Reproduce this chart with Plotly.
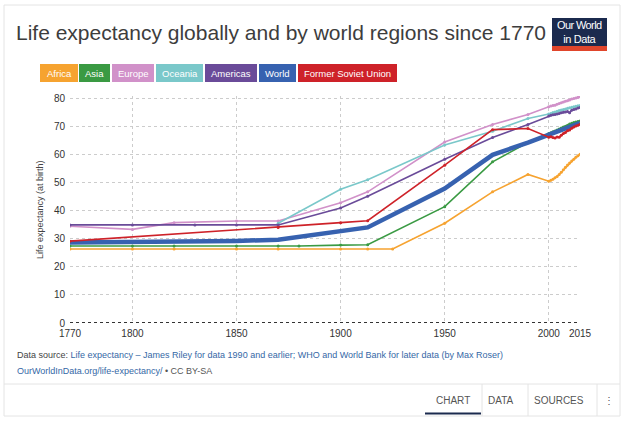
import plotly.graph_objects as go

# ---------------- data ----------------
tick_years = [1770, 1800, 1850, 1900, 1950, 2000, 2015]
grid_years = [1800, 1850, 1900, 1950, 2000]
y_ticks = [0, 10, 20, 30, 40, 50, 60, 70, 80]

recent_years = [2000, 2001, 2002, 2003, 2004, 2005, 2006, 2007, 2008, 2009, 2010, 2011, 2012, 2013, 2014, 2015]

africa_years = [1770, 1800, 1820, 1850, 1870, 1900, 1913, 1925, 1950, 1973, 1990] + recent_years
africa = [26.4, 26.4, 26.4, 26.4, 26.4, 26.4, 26.4, 26.4, 35.6, 46.8, 53.0,
          50.6, 50.9, 51.3, 51.8, 52.3, 53.0, 53.8, 54.7, 55.6, 56.4, 57.1, 57.8, 58.4, 59.1, 59.7, 60.2]

asia_years = [1770, 1800, 1820, 1850, 1870, 1880, 1900, 1913, 1950, 1973, 1990] + recent_years
asia = [27.5, 27.5, 27.5, 27.5, 27.5, 27.5, 27.8, 27.9, 41.5, 57.5, 64.4,
        67.6, 67.9, 68.2, 68.5, 68.9, 69.2, 69.6, 69.9, 70.2, 70.6, 71.0, 71.3, 71.5, 71.7, 71.9, 72.1]

europe_years = [1770, 1800, 1820, 1850, 1870, 1900, 1913, 1950, 1973, 1990] + recent_years
europe = [34.5, 33.4, 35.8, 36.4, 36.4, 42.9, 46.8, 64.6, 70.8, 74.4,
          77.2, 77.4, 77.6, 77.7, 78.1, 78.3, 78.6, 78.9, 79.1, 79.3, 79.6, 79.9, 80.1, 80.3, 80.5, 80.7]

oceania_years = [1870, 1900, 1913, 1950, 1973, 1990] + recent_years
oceania = [35.6, 47.7, 51.1, 63.5, 68.4, 73.0,
           74.6, 74.8, 75.1, 75.3, 75.6, 75.8, 76.0, 76.2, 76.4, 76.6, 76.8, 77.0, 77.2, 77.3, 77.5, 77.6]

americas_years = [1770, 1800, 1830, 1850, 1870, 1900, 1913, 1950, 1973, 1990] + recent_years
americas = [35.0, 35.0, 35.0, 35.0, 35.0, 41.0, 45.2, 58.4, 66.2, 70.8,
            73.9, 74.1, 74.3, 74.4, 74.6, 74.8, 75.0, 75.2, 75.3, 75.5, 75.0, 75.9, 76.2, 76.4, 76.7, 76.9]

world_years = [1770, 1800, 1820, 1850, 1870, 1900, 1913, 1950, 1973, 1990] + recent_years
world = [28.7, 28.8, 29.0, 29.3, 29.7, 32.8, 34.1, 48.0, 60.0, 64.4,
         67.0, 67.3, 67.6, 67.9, 68.2, 68.5, 68.8, 69.1, 69.4, 69.7, 70.0, 70.3, 70.6, 70.9, 71.2, 71.4]

fsu_years = [1770, 1870, 1900, 1913, 1950, 1973, 1990] + recent_years
fsu = [29.2, 34.1, 35.8, 36.5, 56.3, 69.0, 69.4,
       66.3, 66.5, 66.2, 66.0, 66.4, 66.3, 67.0, 67.6, 68.0, 68.6, 68.9, 69.5, 69.9, 70.3, 70.6, 70.9]

series_names = ["Africa", "Asia", "Europe", "Oceania", "Americas", "World", "Former Soviet Union"]
series_years = [africa_years, asia_years, europe_years, oceania_years, americas_years, world_years, fsu_years]
series_values = [africa, asia, europe, oceania, americas, world, fsu]
series_colors = ["#F6A330", "#3A9A43", "#D191C9", "#7AC8CA", "#6A4B99", "#3762B0", "#CE2229"]
series_widths = [1.6, 1.6, 1.6, 1.6, 1.6, 4.5, 1.6]

# ---------------- geometry helpers ----------------
W_PX, H_PX = 626, 421
L, R = 70, 580          # plot area pixel x
T, B = 96, 323          # plot area pixel y


def px(x):
    return (x - L) / (R - L)


def py(y):
    return (B - y) / (B - T)


fig = go.Figure()

for name, xs, ys, col, w in zip(series_names, series_years, series_values, series_colors, series_widths):
    fig.add_trace(go.Scatter(
        x=xs, y=ys, name=name, mode="lines+markers",
        line=dict(color=col, width=w),
        marker=dict(size=3 if w < 3 else 0.1, color=col),
        showlegend=False, hoverinfo="x+y+name",
    ))

# invisible trace on the second x axis for vertical grid lines
fig.add_trace(go.Scatter(x=[tick_years[0], tick_years[-1]], y=[None, None], xaxis="x2",
                         showlegend=False, hoverinfo="skip"))

fig.update_layout(
    width=W_PX, height=H_PX,
    margin=dict(l=L, r=W_PX - R, t=T, b=H_PX - B, pad=0),
    paper_bgcolor="white", plot_bgcolor="white",
    font=dict(family="Liberation Sans, Arial, sans-serif", color="#333333", size=10),
    xaxis=dict(range=[tick_years[0], tick_years[-1]], tickvals=tick_years,
               ticktext=[str(v) for v in tick_years],
               showgrid=False, zeroline=False, showline=False, ticks="",
               tickfont=dict(size=10, color="#333333"), ticklabelstandoff=3),
    xaxis2=dict(range=[tick_years[0], tick_years[-1]], overlaying="x", tickvals=grid_years,
                showgrid=True, gridcolor="#cccccc", griddash="dot", gridwidth=1,
                showticklabels=False, zeroline=False, ticks=""),
    yaxis=dict(range=[0, 81], tickvals=y_ticks, showgrid=True, gridcolor="#cccccc",
               griddash="dot", gridwidth=1, zeroline=False, showline=False, ticks="",
               tickfont=dict(size=10, color="#333333"), ticklabelstandoff=4),
    hovermode="closest",
)

shapes = []
annots = []

# card border
shapes.append(dict(type="rect", xref="paper", yref="paper", x0=px(4), x1=px(620), y0=py(5), y1=py(416),
                   line=dict(color="#e4e4e4", width=1), fillcolor="rgba(0,0,0,0)", layer="below"))
# x-axis dotted baseline
shapes.append(dict(type="line", xref="paper", yref="y", x0=0, x1=1, y0=0, y1=0,
                   line=dict(color="#333333", width=2, dash="dot")))

# title
annots.append(dict(text="Life expectancy globally and by world regions since 1770", xref="paper", yref="paper",
                   x=px(14), y=py(32), xanchor="left", yanchor="middle", showarrow=False,
                   font=dict(size=21, color="#3d3d3d", family="Liberation Sans, Arial, sans-serif")))

# logo
shapes.append(dict(type="rect", xref="paper", yref="paper", x0=px(552), x1=px(607), y0=py(46), y1=py(18),
                   line=dict(width=0), fillcolor="#1B2A4E"))
shapes.append(dict(type="rect", xref="paper", yref="paper", x0=px(552), x1=px(607), y0=py(51), y1=py(46),
                   line=dict(width=0), fillcolor="#E0452B"))
annots.append(dict(text="<span style='letter-spacing:-0.6px'>Our World</span><br><span style='letter-spacing:-0.4px'>in Data</span>",
                   xref="paper", yref="paper", x=px(579.5), y=py(32),
                   xanchor="center", yanchor="middle", showarrow=False, align="center",
                   font=dict(size=11, color="white", family="Liberation Sans Narrow, Liberation Sans, Arial")))

# legend buttons
legend_boxes = [(40, 78), (79, 110), (112, 154), (156, 203), (205, 257), (259, 296), (298, 397)]
for name, col, (x0, x1) in zip(series_names, series_colors, legend_boxes):
    shapes.append(dict(type="rect", xref="paper", yref="paper", x0=px(x0), x1=px(x1), y0=py(82), y1=py(64),
                       line=dict(width=0), fillcolor=col))
    annots.append(dict(text=name, xref="paper", yref="paper", x=px((x0 + x1) / 2), y=py(73),
                       xanchor="center", yanchor="middle", showarrow=False,
                       font=dict(size=9.5, color="white", family="Liberation Sans, Arial")))

# y axis title
annots.append(dict(text="Life expectancy (at birth)", xref="paper", yref="paper", x=px(40), y=py(210),
                   xanchor="center", yanchor="middle", showarrow=False, textangle=-90,
                   font=dict(size=9, color="#444444")))

# footer
annots.append(dict(text="Data source: <span style='color:#3568a6'>Life expectancy – James Riley for data 1990 and earlier; WHO and World Bank for later data (by Max Roser)</span>",
                   xref="paper", yref="paper", x=px(15), y=py(355), xanchor="left", yanchor="middle",
                   showarrow=False, font=dict(size=9, color="#444444")))
annots.append(dict(text="<span style='color:#3568a6'>OurWorldInData.org/life-expectancy/</span> • CC BY-SA",
                   xref="paper", yref="paper", x=px(15), y=py(371), xanchor="left", yanchor="middle",
                   showarrow=False, font=dict(size=9, color="#555555")))
shapes.append(dict(type="line", xref="paper", yref="paper", x0=px(4), x1=px(620), y0=py(384), y1=py(384),
                   line=dict(color="#e4e4e4", width=1)))
tabs = [("CHART", 453), ("DATA", 501), ("SOURCES", 559), ("⋮", 609)]
for label, cx in tabs:
    annots.append(dict(text=label, xref="paper", yref="paper", x=px(cx), y=py(400), xanchor="center",
                       yanchor="middle", showarrow=False, font=dict(size=10, color="#555555")))
for sx in [482, 528, 597]:
    shapes.append(dict(type="line", xref="paper", yref="paper", x0=px(sx), x1=px(sx), y0=py(384), y1=py(416),
                       line=dict(color="#e4e4e4", width=1)))
shapes.append(dict(type="line", xref="paper", yref="paper", x0=px(425), x1=px(481), y0=py(413.5), y1=py(413.5),
                   line=dict(color="#1B2A4E", width=2)))

fig.update_layout(shapes=shapes, annotations=annots)
fig.write_html("out.html", config={"displayModeBar": False},
               post_script="document.body.style.margin='0';document.body.style.overflow='hidden';")
